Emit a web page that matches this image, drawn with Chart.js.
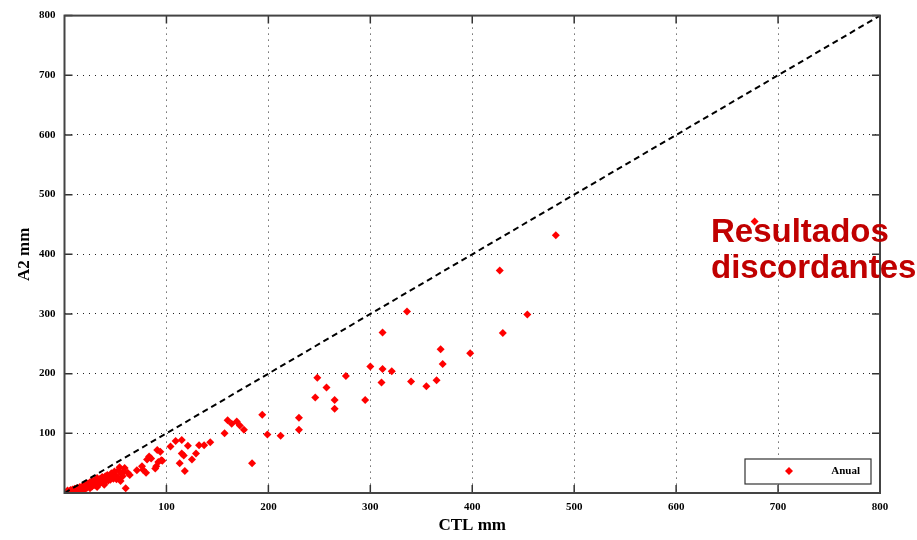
<!DOCTYPE html>
<html>
<head>
<meta charset="utf-8">
<script src="https://cdn.jsdelivr.net/npm/chart.js@4.4.1/dist/chart.umd.min.js"></script>
<style>
  body { margin: 0; background: #fff; }
  #wrap { width: 917px; height: 540px; }
</style>
</head>
<body>
<div id="wrap"><canvas id="scatter_chart" width="917" height="540"></canvas></div>
<script>
// CTL (x) vs A2 (y), annual totals in mm
let ctl_values = [
  2, 3, 4, 5, 6, 7, 8, 9, 10, 10, 11, 12, 13, 14, 15, 15, 16, 17, 18, 18,
  19, 20, 20, 21, 22, 22, 23, 24, 25, 25, 26, 27, 27, 28, 29, 30, 30, 31, 32, 32,
  33, 34, 35, 35, 36, 37, 38, 39, 40, 40, 41, 42, 43, 44, 45, 46, 47, 48, 49, 50,
  51, 52, 53, 54, 55, 56, 57, 58, 59, 60, 62, 64,
  71, 76, 77, 80, 81, 83, 85, 89, 90, 91, 92, 94, 95, 96, 104, 109, 113, 115, 115, 117,
  118, 121, 125, 129, 132, 137, 143, 157, 160, 164, 169, 172, 176, 184, 194, 199, 212, 230, 230, 246,
  248, 257, 265, 265, 276, 295, 300, 311, 312, 312, 321, 336, 340, 355, 365, 369, 371, 398, 427, 430,
  454, 482, 677
]
let a2_values = [
  2, 4, 1, 3, 5, 2, 6, 4, 7, 3, 5, 8, 6, 4, 10, 7, 9, 5, 12, 8,
  10, 14, 6, 11, 13, 9, 16, 12, 8, 18, 14, 20, 11, 16, 19, 13, 22, 17, 25, 10,
  20, 15, 24, 21, 18, 27, 22, 14, 28, 19, 24, 30, 21, 26, 22, 33, 28, 24, 36, 30,
  23, 26, 38, 43, 20, 32, 28, 36, 42, 8, 34, 30,
  38, 45, 39, 34, 56, 61, 58, 41, 45, 72, 52, 69, 55, 54, 78, 87, 50, 89, 66, 63,
  37, 79, 56, 66, 80, 80, 85, 100, 122, 116, 120, 113, 106, 50, 131, 98, 96, 126, 106, 160,
  193, 177, 156, 141, 196, 156, 212, 185, 269, 208, 204, 304, 187, 179, 189, 241, 216, 234, 373, 268,
  299, 432, 455
]
let x_ticks = [100, 200, 300, 400, 500, 600, 700, 800]
let y_ticks = [100, 200, 300, 400, 500, 600, 700, 800]
let ref_line_x = [0, 800]
let ref_line_y = [0, 800]
let series_label = 'Anual'
let note_lines = ['Resultados', 'discordantes']

let points = ctl_values.map((v, i) => ({ x: v, y: a2_values[i] }))
let ref_points = ref_line_x.map((v, i) => ({ x: v, y: ref_line_y[i] }))

let tick_font = { family: 'Liberation Serif', size: 11, weight: 'bold' }
let title_font = { family: 'Liberation Serif', size: 17, weight: 'bold' }

// inward tick marks, box border, legend box and red note
let decorations = {
  id: 'decorations',
  afterDraw(chart) {
    let c = chart.ctx
    let a = chart.chartArea
    let xs = chart.scales.x
    let ys = chart.scales.y
    c.save()
    c.strokeStyle = '#333'
    c.lineWidth = 1.5
    x_ticks.forEach(t => {
      let px = xs.getPixelForValue(t)
      c.beginPath()
      c.moveTo(px, a.bottom); c.lineTo(px, a.bottom - 8)
      c.moveTo(px, a.top); c.lineTo(px, a.top + 8)
      c.stroke()
    })
    y_ticks.forEach(t => {
      let py = ys.getPixelForValue(t)
      c.beginPath()
      c.moveTo(a.left, py); c.lineTo(a.left + 8, py)
      c.moveTo(a.right, py); c.lineTo(a.right - 8, py)
      c.stroke()
    })
    c.strokeStyle = '#444'
    c.lineWidth = 2
    c.strokeRect(a.left, a.top, a.right - a.left, a.bottom - a.top)

    // legend box
    let bx = a.right - 135, by = a.bottom - 34, bw = 126, bh = 25
    c.fillStyle = '#fff'
    c.fillRect(bx, by, bw, bh)
    c.strokeStyle = '#333'
    c.lineWidth = 1.2
    c.strokeRect(bx, by, bw, bh)
    c.fillStyle = '#ff0000'
    c.beginPath()
    let mx = bx + 44, my = by + 12
    c.moveTo(mx, my - 4); c.lineTo(mx + 4, my); c.lineTo(mx, my + 4); c.lineTo(mx - 4, my)
    c.closePath(); c.fill()
    c.fillStyle = '#000'
    c.font = 'bold 11px "Liberation Serif"'
    c.textAlign = 'right'
    c.textBaseline = 'middle'
    c.fillText(series_label, bx + bw - 11, my)

    // note
    c.fillStyle = '#c00000'
    c.font = 'bold 33px "Liberation Sans"'
    c.textAlign = 'left'
    c.textBaseline = 'alphabetic'
    c.fillText(note_lines[0], 711, 242)
    c.fillText(note_lines[1], 711, 278)
    c.restore()
  }
}

let ctx = document.querySelector('#scatter_chart').getContext('2d')

let scatter_chart = new Chart(ctx, {
  type: 'scatter',
  data: {
    datasets: [{
      label: series_label,
      data: points,
      backgroundColor: '#ff0000',
      borderColor: '#ff0000',
      pointStyle: 'rectRot',
      pointRadius: 4,
      borderWidth: 0,
      order: 2
    }, {
      label: 'ref',
      type: 'line',
      data: ref_points,
      borderColor: '#000',
      borderWidth: 2,
      borderDash: [6, 4],
      pointRadius: 0,
      fill: false,
      order: 1
    }]
  },
  options: {
    responsive: false,
    animation: false,
    layout: { padding: { top: 11, right: 37, left: 0, bottom: 0 } },
    plugins: {
      legend: { display: false },
      tooltip: { enabled: false }
    },
    scales: {
      x: {
        type: 'linear',
        min: 0,
        max: 800,
        border: { display: false, dash: [1, 5] },
        grid: { color: '#222', lineWidth: 1, drawTicks: false },
        ticks: {
          stepSize: 100,
          padding: 8,
          color: '#000',
          font: tick_font,
          maxRotation: 0,
          callback: v => (x_ticks.includes(v) ? v : '')
        },
        title: { display: true, text: 'CTL mm', color: '#000', font: title_font, padding: { top: 4, bottom: 4 } },
        afterFit: s => { s.height = 47 }
      },
      y: {
        type: 'linear',
        min: 0,
        max: 800,
        border: { display: false, dash: [1, 5] },
        grid: { color: '#222', lineWidth: 1, drawTicks: false },
        ticks: {
          stepSize: 100,
          padding: 9,
          color: '#000',
          font: tick_font,
          callback: v => (y_ticks.includes(v) ? v : '')
        },
        title: { display: true, text: 'A2 mm', color: '#000', font: title_font, padding: { top: 14, bottom: 6 } },
        afterFit: s => { s.width = 64.5 }
      }
    }
  },
  plugins: [decorations]
})
</script>
</body>
</html>
